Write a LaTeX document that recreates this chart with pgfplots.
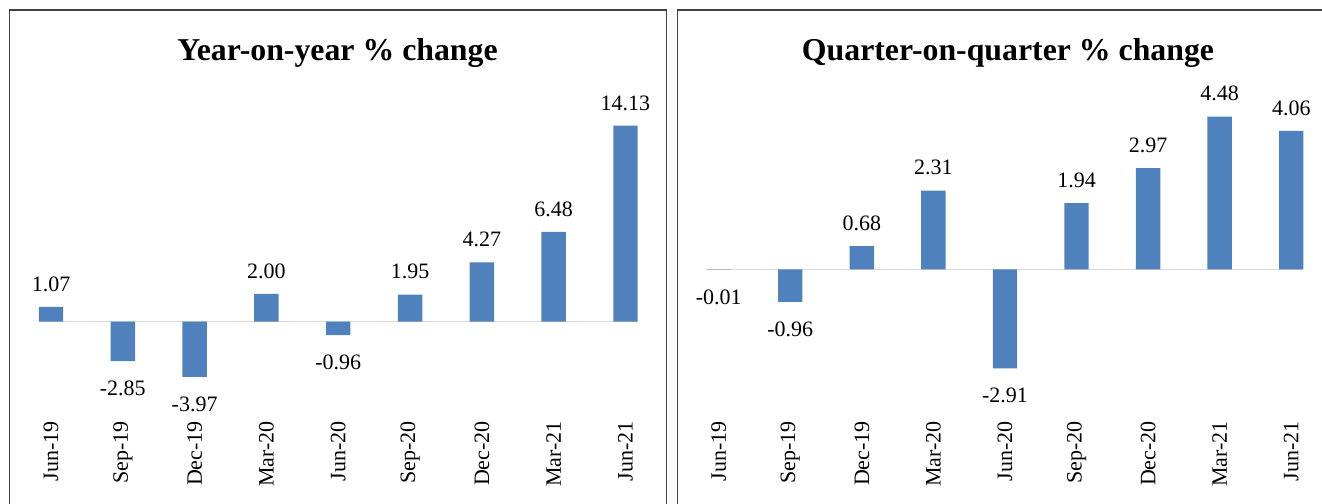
\documentclass[border=0pt]{standalone}
\usepackage{pgfplots}
\pgfplotsset{compat=1.18}
\usepackage{fontspec}
\setmainfont{Liberation Serif}
\definecolor{barblue}{HTML}{4F81BD}
\definecolor{zeroline}{HTML}{D9D9D9}
\definecolor{framegray}{HTML}{404040}

% shared look of both panels
\pgfplotsset{
  qchart/.style={
    ybar, bar width=24.4bp,
    anchor=south west,
    xmin=-0.5, xmax=8.5,
    xtick={0,...,8},
    xticklabels={Jun-19,Sep-19,Dec-19,Mar-20,Jun-20,Sep-20,Dec-20,Mar-21,Jun-21},
    ytick=\empty,
    axis line style={draw=none},
    major tick length=0pt,
    xticklabel style={rotate=90, anchor=east, inner sep=0pt,
      font=\fontsize{22bp}{26bp}\selectfont},
    nodes near coords={\pgfmathprintnumber[fixed,fixed zerofill,precision=2,assume math mode=true]{\pgfplotspointmeta}},
    nodes near coords align=vertical,
    every node near coord/.append style={font=\fontsize{22bp}{26bp}\selectfont,
      text=black, inner xsep=0pt, inner ysep=15.5bp, text height=18.7bp, text depth=0pt},
    clip=false,
  },
}

\begin{document}
\begin{tikzpicture}
\useasboundingbox (0bp,0bp) rectangle (1322bp,-504bp);
% panel frames, cut off at the bottom and right like the reference
\draw[framegray, line width=1.2bp] (9.3bp,-540bp) |- (666.7bp,-10bp) -- (666.7bp,-540bp);
\draw[framegray, line width=1.2bp] (677.3bp,-540bp) |- (1350bp,-10bp);

\node[anchor=base, font=\bfseries\fontsize{31.8bp}{36bp}\selectfont] at (337.5bp,-60.5bp) {Year-on-year \% change};
\node[anchor=base, font=\bfseries\fontsize{31.8bp}{36bp}\selectfont] at (1008bp,-60.5bp) {Quarter-on-quarter \% change};

\begin{axis}[qchart, x=71.81bp, y=13.87bp, ymin=-7.16, ymax=16.7, at={(15.1bp,-421bp)}]
\draw[zeroline, line width=1.5bp] (axis cs:-0.17,0) -- (axis cs:8.17,0);
\addplot[fill=barblue, draw=none] coordinates {(0,1.07) (1,-2.85) (2,-3.97) (3,2.00) (4,-0.96) (5,1.95) (6,4.27) (7,6.48) (8,14.13)};
\end{axis}

\begin{axis}[qchart, x=71.57bp, y=34.07bp, ymin=-4.453, ymax=5.263, at={(682.9bp,-421bp)}]
\draw[zeroline, line width=1.5bp] (axis cs:-0.17,0) -- (axis cs:8.17,0);
\addplot[fill=barblue, draw=none] coordinates {(0,-0.01) (1,-0.96) (2,0.68) (3,2.31) (4,-2.91) (5,1.94) (6,2.97) (7,4.48) (8,4.06)};
\end{axis}
\end{tikzpicture}
\end{document}
